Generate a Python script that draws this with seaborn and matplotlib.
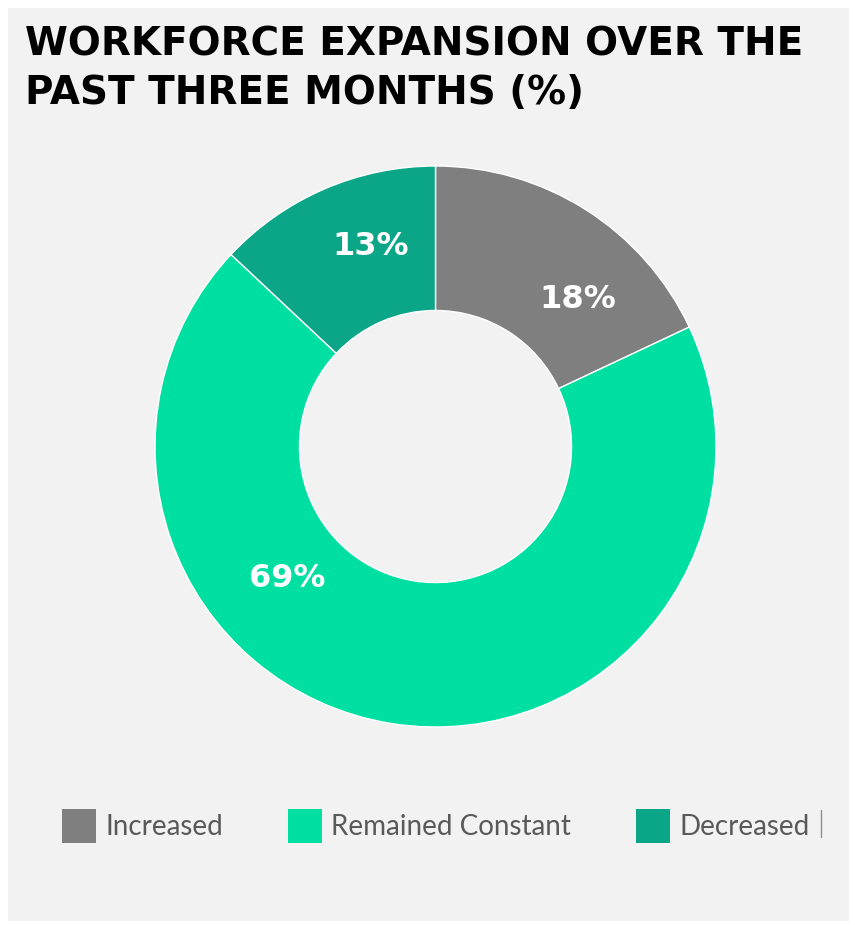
import matplotlib
matplotlib.use("Agg")
import matplotlib.pyplot as plt
import seaborn as sns
import numpy as np
from matplotlib.patches import Rectangle, Patch
from matplotlib.lines import Line2D

# ---- data ----
categories = ["Increased", "Remained Constant", "Decreased"]
values = [18, 69, 13]
value_labels = ["18%", "69%", "13%"]
title = "WORKFORCE EXPANSION OVER THE\nPAST THREE MONTHS (%)"

# ---- style ----
colors = ["#7f7f7f", "#00dfa2", "#0aa687"]
label_angles = [46, 221.7, 108]   # degrees, label placement
label_radius = [0.73, 0.71, 0.75]

sns.set_theme(style="white")
plt.rcParams["font.family"] = ["DejaVu Sans"]

W, H = 855, 925
fig = plt.figure(figsize=(W / 100, H / 100), dpi=100, facecolor="white")
bg = Rectangle((8 / W, 4 / H), 841 / W, 913 / H, transform=fig.transFigure,
               facecolor="#f2f2f2", edgecolor="none", zorder=-10)
fig.add_artist(bg)

cx, cy, r = 435.5, 446.5, 280.5
ax = fig.add_axes([(cx - r) / W, (H - cy - r) / H, 2 * r / W, 2 * r / H])
ax.set_zorder(5)
ax.set_facecolor("none")
wedges, _ = ax.pie(values, colors=colors, startangle=90, counterclock=False, radius=1,
                   wedgeprops=dict(width=0.515, edgecolor="white", linewidth=1))
ax.set_xlim(-1, 1)
ax.set_ylim(-1, 1)
ax.set_aspect("equal")
ax.axis("off")

for lab, ang, rr in zip(value_labels, label_angles, label_radius):
    t = np.deg2rad(ang)
    ax.text(rr * np.cos(t), rr * np.sin(t), lab, ha="center", va="center",
            color="white", fontsize=23, fontweight="bold")

fig.text(25 / W, 1 - 26 / H, title, ha="left", va="top", fontsize=28, fontweight="bold",
         color="black", linespacing=1.33)

handles = [Patch(facecolor=c, edgecolor="none") for c in colors]
leg = fig.legend(handles, categories, loc="center", bbox_to_anchor=(436 / W, 1 - 826 / H),
                 ncol=3, frameon=False, fontsize=20, handlelength=1.2, handleheight=1.56,
                 handletextpad=0.35, columnspacing=2.35)
for t in leg.get_texts():
    t.set_color("#595959")
    t.set_fontfamily(["Lato", "DejaVu Sans"])
    t.set_fontsize(20)

# thin separator mark at the legend's right end
fig.add_artist(Line2D([821 / W, 821 / W], [1 - 810 / H, 1 - 837 / H], transform=fig.transFigure,
                      color="#8c8c8c", linewidth=1))

fig.savefig("out.png", dpi=100, facecolor="white")
